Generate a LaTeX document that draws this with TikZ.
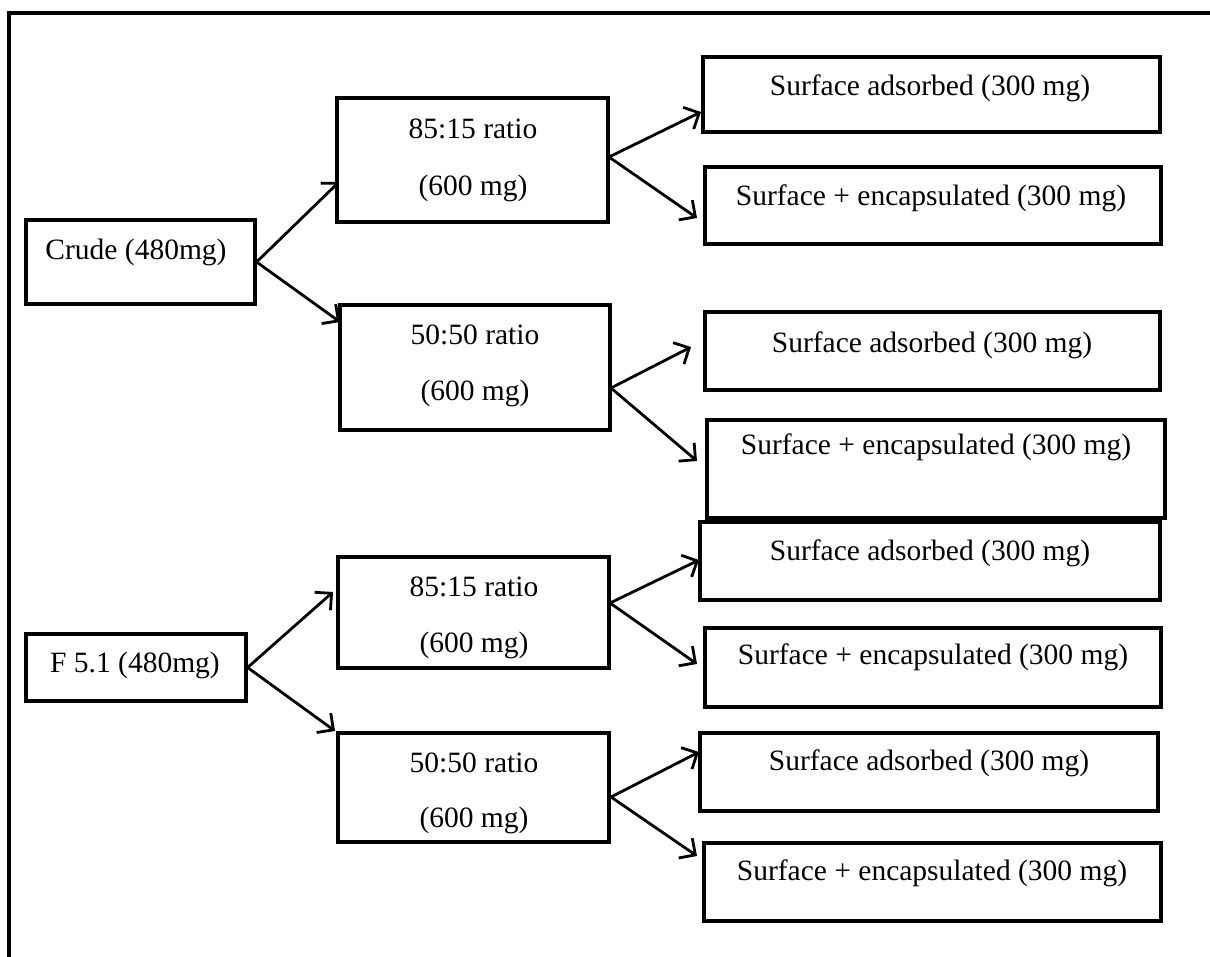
\documentclass[tikz,border=0pt]{standalone}
\usepackage{fontspec}
\setmainfont{Liberation Serif}
\usetikzlibrary{arrows.meta}
\begin{document}
\begin{tikzpicture}[x=1pt,y=-1pt,
  bx/.style={draw, line width=3.2pt, rectangle, inner sep=0pt},
  txt/.style={font=\fontsize{29.5}{34}\selectfont, inner sep=0pt},
  arr/.style={line width=2.8pt, -{Straight Barb[length=12pt,width=24pt,line width=2.8pt]}}]
\useasboundingbox (0,0) rectangle (1210,956);
% outer frame (only top and left visible)
\draw[line width=3.4pt] (9,960) -- (9,13) -- (1215,13);

% ---- left boxes
\node[bx, minimum width=229pt, minimum height=84pt] (crude) at (140.5,262) {};
\node[txt] (crudet) at (136,252) {Crude (480mg)};
\node[bx, minimum width=220pt, minimum height=67pt] (f51) at (136,667.5) {};
\node[txt] (f51t) at (135,665) {F 5.1 (480mg)};

% ---- ratio boxes
\node[bx, minimum width=271pt, minimum height=124pt] (r1) at (472.5,160) {};
\node[txt] (r1a) at (473,129) {85:15 ratio};
\node[txt] (r1b) at (473,188) {(600 mg)};
\node[bx, minimum width=270pt, minimum height=125pt] (r2) at (475,367.5) {};
\node[txt] (r2a) at (475,335) {50:50 ratio};
\node[txt] (r2b) at (475,393) {(600 mg)};
\node[bx, minimum width=271pt, minimum height=111pt] (r3) at (473.5,612.5) {};
\node[txt] (r3a) at (474,587) {85:15 ratio};
\node[txt] (r3b) at (474,645) {(600 mg)};
\node[bx, minimum width=271pt, minimum height=109pt] (r4) at (473.5,787.5) {};
\node[txt] (r4a) at (474,763) {50:50 ratio};
\node[txt] (r4b) at (474,820) {(600 mg)};

% ---- right boxes
\node[bx, minimum width=457pt, minimum height=75pt] (sa1) at (931.5,94.5) {};
\node[txt] (sa1t) at (930,88) {Surface adsorbed (300 mg)};
\node[bx, minimum width=456pt, minimum height=77pt] (se1) at (933,205.5) {};
\node[txt] (se1t) at (931,198) {Surface + encapsulated (300 mg)};
\node[bx, minimum width=455pt, minimum height=78pt] (sa2) at (932.5,351) {};
\node[txt] (sa2t) at (932,345) {Surface adsorbed (300 mg)};
\node[bx, minimum width=458pt, minimum height=98pt] (se2) at (936,469) {};
\node[txt] (se2t) at (936,447) {Surface + encapsulated (300 mg)};
\node[bx, minimum width=460pt, minimum height=78pt] (sa3) at (930,561) {};
\node[txt] (sa3t) at (930,553) {Surface adsorbed (300 mg)};
\node[bx, minimum width=456pt, minimum height=79pt] (se3) at (933,667.5) {};
\node[txt] (se3t) at (933,657) {Surface + encapsulated (300 mg)};
\node[bx, minimum width=458pt, minimum height=78pt] (sa4) at (929,772) {};
\node[txt] (sa4t) at (929,763) {Surface adsorbed (300 mg)};
\node[bx, minimum width=457pt, minimum height=78pt] (se4) at (932.5,882) {};
\node[txt] (se4t) at (932,873) {Surface + encapsulated (300 mg)};

% ---- junctions and arrow tips
\coordinate (j1) at (609,157);
\coordinate (j2) at (611,388);
\coordinate (j3) at (610,603);
\coordinate (j4) at (611,797);
\coordinate (tc1) at (339,182);
\coordinate (tc2) at (340,322);
\coordinate (tf1) at (333,592);
\coordinate (tf2) at (335,731);
\coordinate (ta1) at (701,112);
\coordinate (te1) at (697,218);
\coordinate (ta2) at (691,347);
\coordinate (te2) at (697,461);
\coordinate (ta3) at (699,560);
\coordinate (te3) at (697,664);
\coordinate (ta4) at (699,752);
\coordinate (te4) at (697,856);

% ---- connectors
\draw[arr] (crude.east) -- (tc1);
\draw[arr] (crude.east) -- (tc2);
\draw[arr] (f51.east) -- (tf1);
\draw[arr] (f51.east) -- (tf2);
\draw[arr] (j1) -- (ta1);
\draw[arr] (j1) -- (te1);
\draw[arr] (j2) -- (ta2);
\draw[arr] (j2) -- (te2);
\draw[arr] (j3) -- (ta3);
\draw[arr] (j3) -- (te3);
\draw[arr] (j4) -- (ta4);
\draw[arr] (j4) -- (te4);
\end{tikzpicture}
\end{document}
